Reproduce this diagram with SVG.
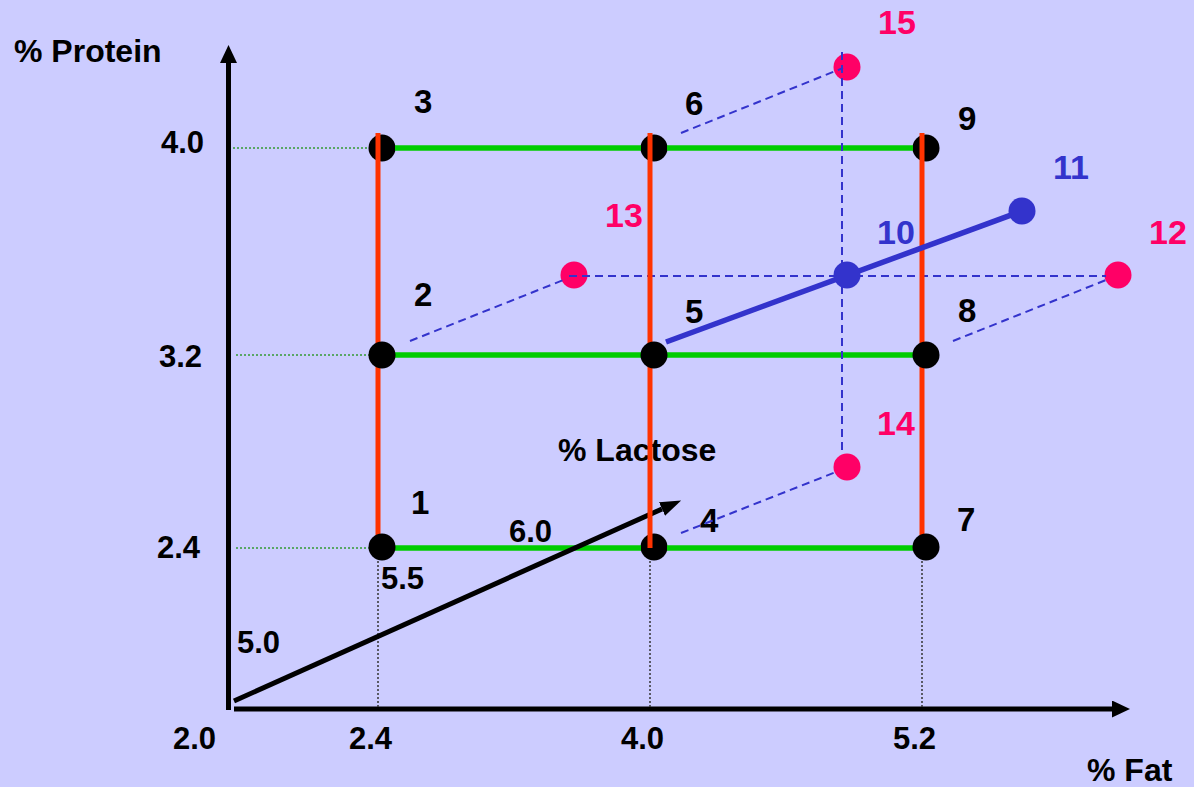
<svg xmlns="http://www.w3.org/2000/svg" width="1194" height="787" viewBox="0 0 1194 787">
<defs>
<style>
text{font-family:"Liberation Sans",Arial,sans-serif;font-weight:bold;font-size:32px}
.num{font-size:31px;fill:#000}
.blk{fill:#000}
.nd{font-size:33px;fill:#000}
.pk{fill:#FF0066;font-size:34px}
.bl{fill:#3333CC;font-size:34px}
.axis{stroke:#000;stroke-width:5;fill:none}
.gdot{stroke:#339933;stroke-width:1.5;stroke-dasharray:2 2;fill:none}
.kdot{stroke:#333;stroke-width:1.5;stroke-dasharray:2 2;fill:none}
.green{stroke:#00CC00;stroke-width:5.5;fill:none}
.red{stroke:#FF3300;stroke-width:5;fill:none}
.dash{stroke:#3333CC;stroke-width:2;stroke-dasharray:8 5;fill:none}
.blue{stroke:#3333CC;stroke-width:5.5;fill:none}
</style>
<marker id="ah" markerUnits="userSpaceOnUse" viewBox="0 0 18 17" markerWidth="18" markerHeight="17" refX="0" refY="8.5" orient="auto"><path d="M0,0 L18,8.5 L0,17 z" fill="#000"/></marker>
<marker id="ah2" markerUnits="userSpaceOnUse" viewBox="0 0 21 15" markerWidth="21" markerHeight="15" refX="0" refY="7.5" orient="auto"><path d="M0,0 L21,7.5 L0,15 z" fill="#000"/></marker>
</defs>
<rect width="1194" height="787" fill="#CCCCFF"/>
<g id="axes">
<line class="axis" x1="228.5" y1="710" x2="228.5" y2="63" marker-end="url(#ah)"/>
<line class="axis" x1="234" y1="709" x2="1112" y2="709" marker-end="url(#ah)"/>
<line class="gdot" x1="233" y1="148" x2="370" y2="148"/>
<line class="gdot" x1="236" y1="355" x2="370" y2="355"/>
<line class="gdot" x1="236" y1="548" x2="370" y2="548"/>
<line class="kdot" x1="378" y1="561" x2="378" y2="707"/>
<line class="kdot" x1="650" y1="561" x2="650" y2="707"/>
<line class="kdot" x1="922" y1="561" x2="922" y2="707"/>
<text x="14" y="62" class="blk">% Protein</text>
<text x="1087" y="781" class="blk">% Fat</text>
<text x="558" y="461" class="blk">% Lactose</text>
<text x="161" y="153" class="num">4.0</text>
<text x="159" y="367" class="num">3.2</text>
<text x="157" y="558" class="num">2.4</text>
<text x="173" y="749" class="num">2.0</text>
<text x="349" y="749" class="num">2.4</text>
<text x="621" y="749" class="num">4.0</text>
<text x="893" y="749" class="num">5.2</text>
<text x="237" y="653" class="num">5.0</text>
<text x="381" y="589" class="num">5.5</text>
<text x="509" y="542" class="num">6.0</text>
</g>
<g id="node-15"><circle cx="847" cy="67" r="13.5" fill="#FF0066"/><text x="878" y="34" class="pk">15</text></g>
<g id="node-12"><circle cx="1118" cy="275" r="13.5" fill="#FF0066"/><text x="1149" y="244" class="pk">12</text></g>
<g id="node-13"><circle cx="574" cy="275" r="13.5" fill="#FF0066"/><text x="605" y="227" class="pk">13</text></g>
<g id="node-14"><circle cx="847" cy="467" r="13.5" fill="#FF0066"/><text x="877" y="435" class="pk">14</text></g>
<g id="node-3"><circle cx="382" cy="148" r="13.5" fill="#000"/><text x="414" y="113" class="nd">3</text></g>
<g id="node-6"><circle cx="654" cy="148" r="13.5" fill="#000"/><text x="685" y="115" class="nd">6</text></g>
<g id="node-9"><circle cx="926" cy="148" r="13.5" fill="#000"/><text x="958" y="130" class="nd">9</text></g>
<g id="node-4"><circle cx="654" cy="547" r="13.5" fill="#000"/><text x="700" y="532" class="nd">4</text></g>
<g id="connectors">
<line class="green" x1="395" y1="148" x2="641" y2="148"/>
<line class="green" x1="667" y1="148" x2="913" y2="148"/>
<line class="green" x1="395" y1="355" x2="641" y2="355"/>
<line class="green" x1="667" y1="355" x2="913" y2="355"/>
<line class="green" x1="395" y1="548" x2="641" y2="548"/>
<line class="green" x1="667" y1="548" x2="913" y2="548"/>
<line class="dash" x1="569" y1="276" x2="1106" y2="276"/>
<line class="dash" x1="842" y1="52" x2="842" y2="455"/>
<line class="dash" x1="681" y1="133" x2="843" y2="68"/>
<line class="dash" x1="410" y1="341" x2="566" y2="279"/>
<line class="dash" x1="953" y1="341" x2="1106" y2="280"/>
<line class="dash" x1="681" y1="533" x2="836" y2="472"/>
<line class="axis" x1="234" y1="701" x2="662" y2="509" marker-end="url(#ah2)"/>
<line class="red" x1="378" y1="133" x2="378" y2="540"/>
<line class="red" x1="650" y1="133" x2="650" y2="548"/>
<line class="red" x1="922" y1="133" x2="922" y2="540"/>
<line class="blue" x1="666" y1="342" x2="1022" y2="211"/>
</g>
<g id="node-1"><circle cx="382" cy="547" r="13.5" fill="#000"/><text x="411" y="514" class="nd">1</text></g>
<g id="node-2"><circle cx="382" cy="355" r="13.5" fill="#000"/><text x="414" y="306" class="nd">2</text></g>
<g id="node-5"><circle cx="654" cy="355" r="13.5" fill="#000"/><text x="685" y="323" class="nd">5</text></g>
<g id="node-7"><circle cx="926" cy="547" r="13.5" fill="#000"/><text x="957" y="531" class="nd">7</text></g>
<g id="node-8"><circle cx="926" cy="355" r="13.5" fill="#000"/><text x="958" y="322" class="nd">8</text></g>
<g id="node-10"><circle cx="847" cy="275" r="13.5" fill="#3333CC"/><text x="877" y="244" class="bl">10</text></g>
<g id="node-11"><circle cx="1022" cy="211" r="13.5" fill="#3333CC"/><text x="1053" y="179" class="bl">11</text></g>
</svg>
